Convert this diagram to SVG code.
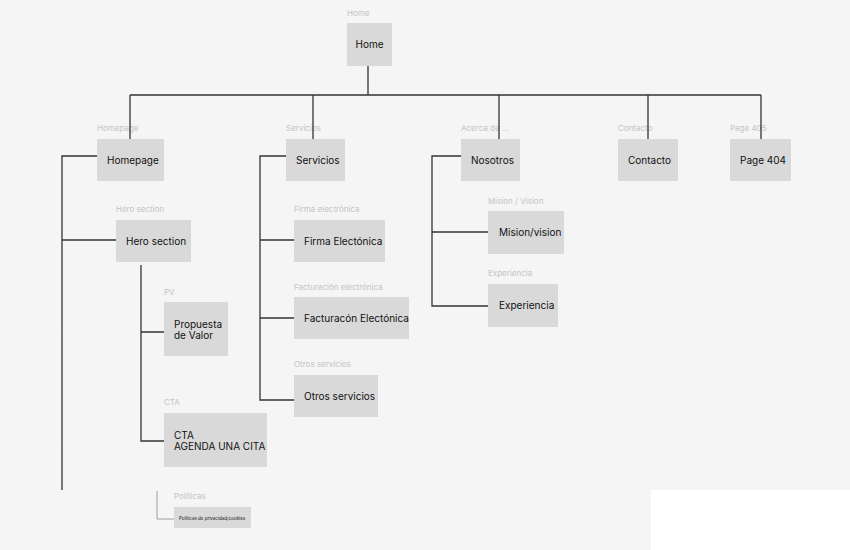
<svg xmlns="http://www.w3.org/2000/svg" width="850" height="550" viewBox="0 0 850 550">
<style>
.b{fill:#d9d9d9}
.t{font-family:Inter,"Liberation Sans",sans-serif;font-size:10px;fill:#111}
.l{font-family:Inter,"Liberation Sans",sans-serif;font-size:8px;fill:#c4c4c4}
.c{stroke:#333;stroke-width:1.3;fill:none}
</style>
<rect width="850" height="550" fill="#f5f5f5"/>
<rect x="651" y="490" width="199" height="60" fill="#fff"/>
<g id="labels">
<text class="l" x="347" y="16">Home</text>
<text class="l" x="97" y="131">Homepage</text>
<text class="l" x="286" y="131">Servicios</text>
<text class="l" x="461" y="131">Acerca de ...</text>
<text class="l" x="618" y="131">Contacto</text>
<text class="l" x="730" y="131">Page 405</text>
<text class="l" x="116" y="212">Hero section</text>
<text class="l" x="164" y="295">PV</text>
<text class="l" x="164" y="405">CTA</text>
<text class="l" x="174" y="499">Políticas</text>
<text class="l" x="294" y="212">Firma electrónica</text>
<text class="l" x="294" y="290">Facturación electrónica</text>
<text class="l" x="294" y="367">Otros servicios</text>
<text class="l" x="488" y="204">Mision / Vision</text>
<text class="l" x="488" y="276">Experiencia</text>
</g>
<g id="connectors" class="c">
<path d="M368 66V95M130 95H761M130 95V139M313 95V139M499 95V139M648 95V139M761 95V139"/>
<path d="M97 156H62V490M62 240H116M141 265V441H164M141 332H164"/>
<path d="M157 491V519H174" stroke="#888" stroke-width="0.8"/>
<path d="M286 156H260V400H294M260 240H294M260 318H294"/>
<path d="M461 156H432V306H488M432 232H488"/>
</g>
<g id="home"><rect class="b" x="347" y="23" width="45" height="43"/><text class="t" x="369.5" y="48" text-anchor="middle">Home</text></g>
<g id="homepage"><rect class="b" x="97" y="139" width="67" height="42"/><text class="t" x="107" y="164">Homepage</text></g>
<g id="servicios"><rect class="b" x="286" y="139" width="59" height="42"/><text class="t" x="296" y="164">Servicios</text></g>
<g id="nosotros"><rect class="b" x="461" y="139" width="59" height="42"/><text class="t" x="471" y="164">Nosotros</text></g>
<g id="contacto"><rect class="b" x="618" y="139" width="60" height="42"/><text class="t" x="628" y="164">Contacto</text></g>
<g id="page404"><rect class="b" x="730" y="139" width="61" height="42"/><text class="t" x="740" y="164">Page 404</text></g>
<g id="hero"><rect class="b" x="116" y="220" width="75" height="42"/><text class="t" x="126" y="245">Hero section</text></g>
<g id="pv"><rect class="b" x="164" y="302" width="64" height="54"/><text class="t" x="174" y="328">Propuesta</text><text class="t" x="174" y="339">de Valor</text></g>
<g id="cta"><rect class="b" x="164" y="413" width="103" height="54"/><text class="t" x="174" y="439">CTA</text><text class="t" x="174" y="450">AGENDA UNA CITA</text></g>
<g id="politicas"><rect class="b" x="174" y="507" width="77" height="21"/><text class="t" x="179" y="520" style="font-size:4.5px">Políticas de privacidad/cookies</text></g>
<g id="firma"><rect class="b" x="294" y="220" width="91" height="42"/><text class="t" x="304" y="245">Firma Electónica</text></g>
<g id="facturacion"><rect class="b" x="294" y="297" width="115" height="42"/><text class="t" x="304" y="322">Facturacón Electónica</text></g>
<g id="otros"><rect class="b" x="294" y="375" width="84" height="42"/><text class="t" x="304" y="400">Otros servicios</text></g>
<g id="mision"><rect class="b" x="488" y="211" width="76" height="43"/><text class="t" x="499" y="236">Mision/vision</text></g>
<g id="experiencia"><rect class="b" x="488" y="284" width="70" height="43"/><text class="t" x="499" y="309">Experiencia</text></g>
</svg>
